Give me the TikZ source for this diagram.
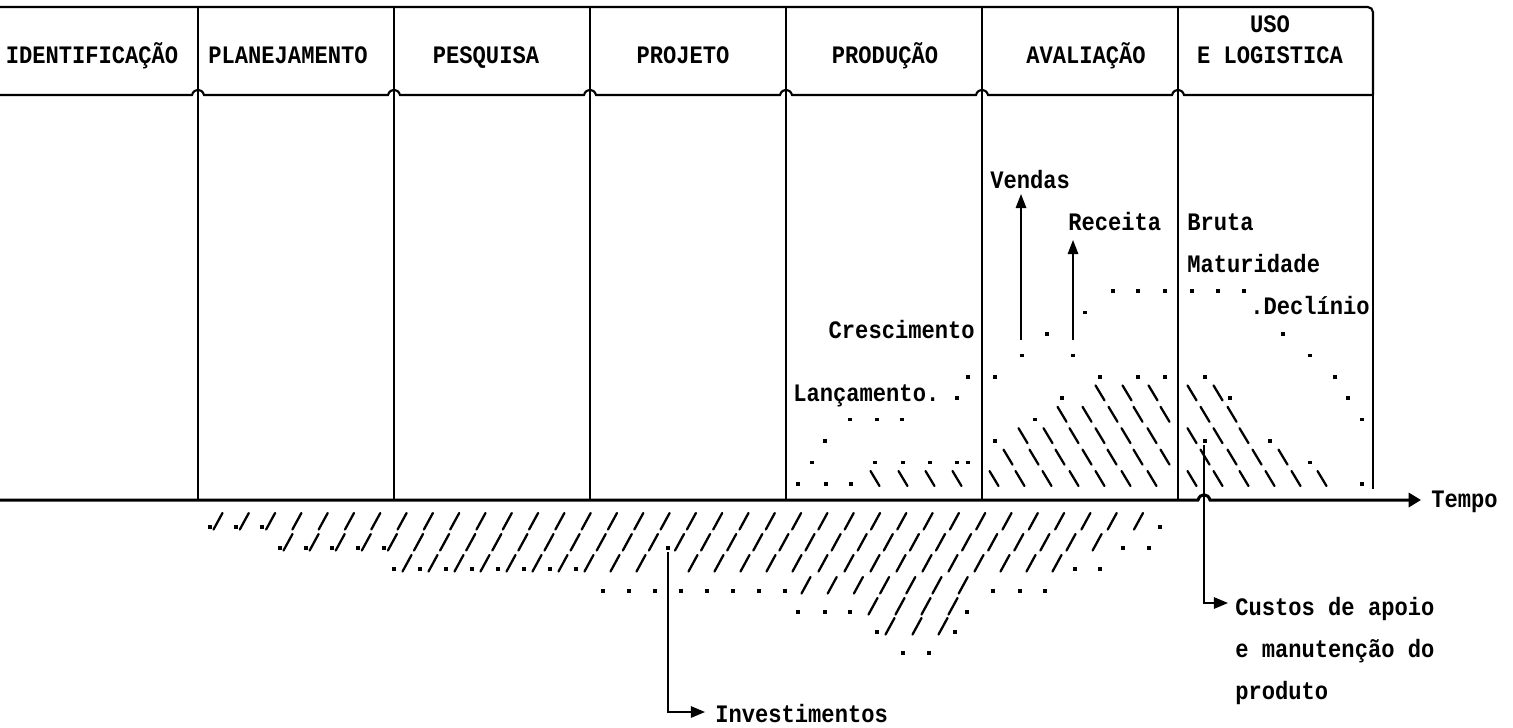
\documentclass[tikz,border=0pt]{standalone}
\usepackage{fontspec}
\setmonofont{Liberation Mono}[FakeStretch=0.88]
\usetikzlibrary{arrows.meta}
\begin{document}
\begin{tikzpicture}[x=0.02cm,y=-0.02cm,
  txt/.style={font=\ttfamily\bfseries\fontsize{14.3}{16}\selectfont, inner sep=0pt, anchor=base west},
  txtr/.style={txt, anchor=base east},
  hdr/.style={font=\ttfamily\bfseries\fontsize{14.3}{16}\selectfont, inner sep=0pt, anchor=base},
  frame/.style={line width=1.2pt},
  sepline/.style={line width=0.8pt},
  axisline/.style={line width=1.7pt, -{Triangle[length=7pt,width=8pt]}},
  hatch/.style={line width=1.3pt, line cap=round},
  arr/.style={line width=0.8pt, -{Triangle[length=8pt,width=6.5pt]}},
  uparr/.style={line width=0.8pt, -{Triangle[length=8pt,width=6pt]}},
]
\useasboundingbox (0,0) rectangle (1513,727);

% ---- header frame ----
\draw[frame, rounded corners=3pt] (0,7) -- (1373,7) -- (1373,95);
\draw[sepline] (1373,95) -- (1373,489);
\draw[frame] (0,95)
  \foreach \x in {198,394,590,786,982,1178} { -- (\x-6,95) .. controls (\x-4,88) and (\x+4,88) .. (\x+6,95) }
  -- (1373,95);
\foreach \x in {198,394,590,786,982,1178} \draw[sepline] (\x,7) -- (\x,500);

% ---- headers ----
\node[hdr] (h1) at (92,63) {IDENTIFICAÇÃO};
\node[hdr] (h2) at (288,63) {PLANEJAMENTO};
\node[hdr] (h3) at (486,63) {PESQUISA};
\node[hdr] (h4) at (683,63) {PROJETO};
\node[hdr] (h5) at (885,63) {PRODUÇÃO};
\node[hdr] (h6) at (1086,63) {AVALIAÇÃO};
\node[hdr] (h7a) at (1270,32) {USO};
\node[hdr] (h7b) at (1270,63) {E LOGISTICA};

% ---- time axis ----
\coordinate (orig) at (0,500);
\node[txt] (tempo) at (1431,507) {Tempo};
\coordinate (tempotip) at (1421,500);
\draw[axisline] (orig) -- (1198,500) .. controls (1200,493) and (1208,493) .. (1210,500) -- (tempotip);

% ---- labels above axis ----
\node[txt] (vendas) at (990,188) {Vendas};
\node[txt] (receita) at (1068,230) {Receita};
\node[txt] (bruta) at (1187,230) {Bruta};
\node[txt] (matur) at (1187,272) {Maturidade};
\node[txtr] (cresc) at (975,338) {Crescimento};
\node[txt] (lanc) at (793,401) {Lançamento.};
\node[txt] (declin) at (1250,314) {.Declínio};

\coordinate (v0) at (1021,340);
\coordinate (v1) at (1021,194);
\draw[uparr] (v0) -- (v1);
\coordinate (r0) at (1073,340);
\coordinate (r1) at (1073,240);
\draw[uparr] (r0) -- (r1);

% ---- dots above axis (x / row) ----
\foreach \x/\r in {798/0,826/0,851/0,812/1,875/1,903/1,930/1,957/1,968/1,825/2,850/3,877/3,902/3,957/4,968/5,
  995/5,1022/6,1073/6,1047/7,1085/8,1113/9,1138/9,1165/9,995/2,1035/3,1062/4,1100/5,1138/5,1165/5,
  1192/9,1218/9,1244/9,1283/7,1310/6,1335/5,1348/4,1362/3,1362/0,1205/5,1230/4,1205/2,1270/2,1310/1}
{ \pgfmathsetmacro\y{485-21.4*\r}
  \fill (\x-1.9,\y-3) rectangle (\x+1.9,\y+0.6); }

% ---- backslash hatching above axis ----
\foreach \x/\r in {875/0,903/0,930/0,957/0,
  994/0,1020/0,1047/0,1074/0,1100/0,1126/0,1152/0,
  1008/1,1034/1,1060/1,1087/1,1112/1,1138/1,1165/1,
  1023/2,1048/2,1074/2,1100/2,1126/2,1152/2,
  1062/3,1087/3,1113/3,1138/3,1165/3,
  1100/4,1127/4,1153/4,
  1192/0,1218/0,1244/0,1270/0,1296/0,1322/0,
  1205/1,1232/1,1257/1,1283/1,
  1192/2,1218/2,1244/2,
  1205/3,1232/3,
  1192/4,1218/4}
{ \pgfmathsetmacro\y{485-21.4*\r}
  \draw[hatch] (\x-4.5,\y-14) -- (\x+4.5,\y+1); }

% ---- slash hatching below axis ----
\foreach \k in {0,...,35} { \pgfmathsetmacro\x{218+26.3*\k} \draw[hatch] (\x-4.5,528+1.5) -- (\x+4.5,528-15); }
\foreach \k in {0,...,31} { \pgfmathsetmacro\x{288+26.1*\k} \draw[hatch] (\x-4.5,549+1.5) -- (\x+4.5,549-15); }
\foreach \k in {0,...,9,11,12,...,25} { \pgfmathsetmacro\x{407+26*\k} \draw[hatch] (\x-4.5,570+1.5) -- (\x+4.5,570-15); }
\foreach \k in {0,...,6} { \pgfmathsetmacro\x{806+26.2*\k} \draw[hatch] (\x-4.5,592+1.5) -- (\x+4.5,592-15); }
\foreach \x in {873,900,926,953} \draw[hatch] (\x-4.5,613+1.5) -- (\x+4.5,613-15);
\foreach \x in {890,917,943} \draw[hatch] (\x-4.5,633+1.5) -- (\x+4.5,633-15);

% ---- dots below axis ----
\foreach \x/\y in {210/528,236/528,262/528,1160/528,
  280/549,306/549,332/549,358/549,384/549,668/549,1123/549,1149/549,
  394/570,420/570,446/570,472/570,498/570,524/570,550/570,576/570,1075/570,1100/570,
  603/592,629/592,655/592,681/592,707/592,733/592,759/592,785/592,993/592,1020/592,1045/592,
  798/613,825/613,850/613,967/613,
  877/633,955/633,
  903/654,929/654}
{ \fill (\x-1.9,\y-3) rectangle (\x+1.9,\y+0.6); }

% ---- investimentos ----
\coordinate (i0) at (668,552);
\coordinate (itip) at (705,712);
\node[txt] (invest) at (715,722) {Investimentos};
\draw[arr] (i0) |- (itip);

% ---- custos ----
\coordinate (c0) at (1204,445);
\coordinate (ctip) at (1228,603);
\draw[arr] (c0) |- (ctip);
\node[txt] (cust1) at (1235,615) {Custos de apoio};
\node[txt] (cust2) at (1235,657) {e manutenção do};
\node[txt] (cust3) at (1235,699) {produto};
\end{tikzpicture}
\end{document}
